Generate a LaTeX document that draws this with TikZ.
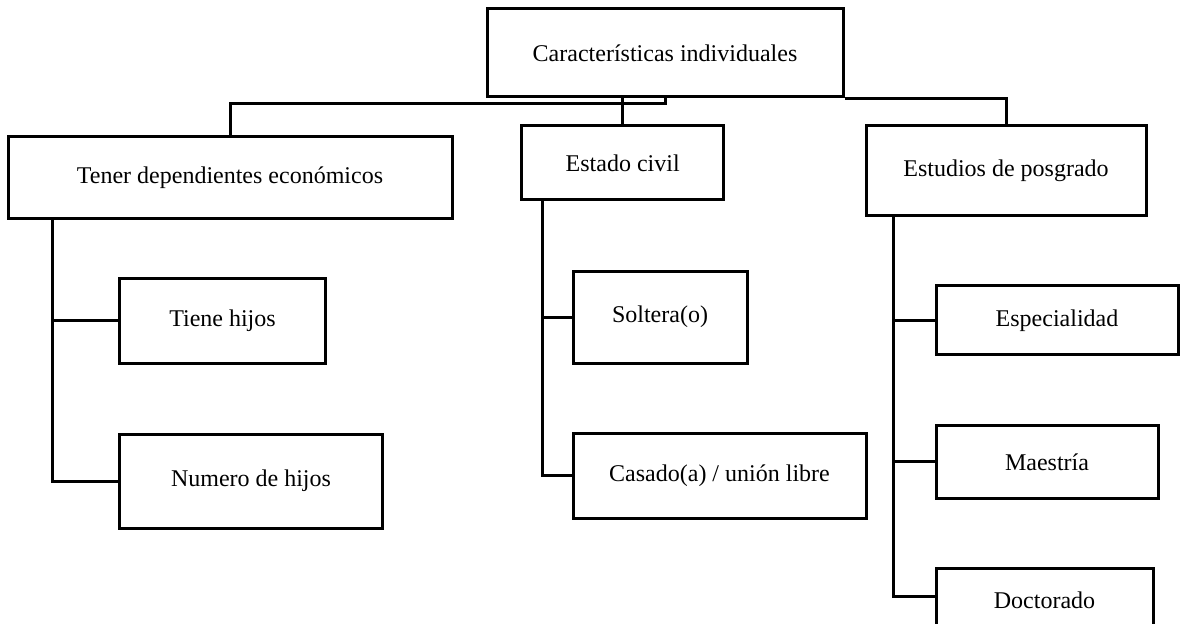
\documentclass[tikz,border=0pt]{standalone}
\usepackage{fontspec}
\setmainfont{Liberation Serif}
\begin{document}
\begin{tikzpicture}[x=0.5pt,y=-0.5pt,
  box/.style={draw=black,line width=1.5pt,rectangle,inner sep=0pt,align=center,
    font=\fontsize{12}{14}\selectfont},
  link/.style={draw=black,line width=1.5pt}]
\useasboundingbox (0,0) rectangle (1180,624);
\clip (0,0) rectangle (1180,624);

% root
\node[box,minimum width=178pt,minimum height=44pt] (top) at (665,53) {Características individuales};

% first level
\node[box,minimum width=222pt,minimum height=41pt] (tener) at (230,178) {Tener dependientes económicos};
\node[box,minimum width=100.75pt,minimum height=37pt] (estado) at (622.7,163) {Estado civil};
\node[box,minimum width=140pt,minimum height=44.75pt] (estudios) at (1006,170.7) {Estudios de posgrado};

% second level
\node[box,minimum width=103.15pt,minimum height=42.3pt] (tiene) at (222.5,321) {Tiene hijos};
\node[box,minimum width=131.65pt,minimum height=47.15pt] (numero) at (251,481.2) {Numero de hijos};
\node[box,minimum width=87pt,minimum height=46.15pt] (soltera) at (660,317.2) {Soltera(o)};
\node[box,minimum width=146.5pt,minimum height=42.5pt] (casado) at (719.5,475.8) {Casado(a) / unión libre};
\node[box,minimum width=121pt,minimum height=34.5pt] (espec) at (1057,320.5) {Especialidad};
\node[box,minimum width=111pt,minimum height=36.3pt] (maestria) at (1047,462) {Maestría};
\node[box,minimum width=108.5pt,minimum height=31pt] (doctorado) at (1044.5,600) {Doctorado};

% links from the root
\draw[link] (tener.north) |- ([yshift=-2.35pt]top.south) -- (top.south);
\draw[link] (estado.north) -- (estado.north |- top.south);
\draw[link] (top.south east) -| (estudios.north);

% vertical buses under each first-level box
\coordinate (tenerbus) at (52.4,219);
\coordinate (estadobus) at (542.7,200);
\coordinate (estudiosbus) at (893.8,215.5);

\draw[link] (tenerbus) |- (tiene.west);
\draw[link] (tenerbus) |- (numero.west);
\draw[link] (estadobus) |- (soltera.west);
\draw[link] (estadobus) |- (casado.west);
\draw[link] (estudiosbus) |- (espec.west);
\draw[link] (estudiosbus) |- (maestria.west);
\draw[link] (estudiosbus) |- ([yshift=1.5pt]doctorado.west);
\end{tikzpicture}
\end{document}
